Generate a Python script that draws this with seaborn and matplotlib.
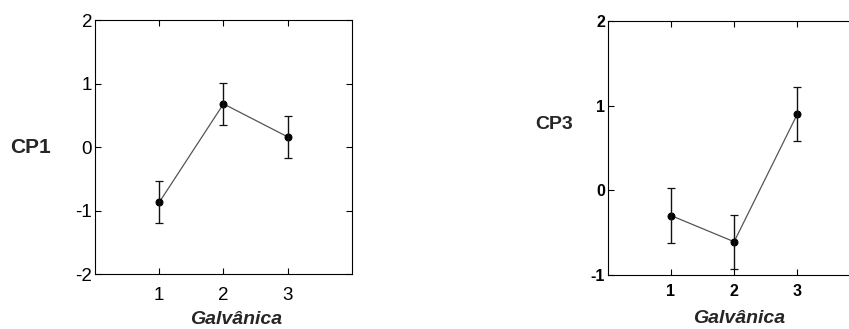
import matplotlib
matplotlib.use("Agg")
import matplotlib.pyplot as plt
import seaborn as sns
import pandas as pd
import numpy as np

groups = [1, 2, 3]
cp1_mean = [-0.87, 0.68, 0.16]
cp1_err = [0.33, 0.33, 0.33]
cp3_mean = [-0.30, -0.61, 0.90]
cp3_err = [0.32, 0.32, 0.32]

sns.set_theme(style="white")
plt.rcParams['font.family'] = ['Liberation Sans', 'DejaVu Sans']
plt.rcParams['axes.unicode_minus'] = False

fig = plt.figure(figsize=(8.49, 3.29), dpi=100)
ax1 = fig.add_axes([0.1119, 0.167, 0.3027, 0.772])
ax2 = fig.add_axes([0.7158, 0.165, 0.2978, 0.771])

def draw(ax, mean, err, ylim, yticks, label, tick_fs, lab_fs, ylab_fs, tick_bold, xpad):
    df = pd.DataFrame({"Galvânica": groups, "val": mean})
    sns.lineplot(data=df, x="Galvânica", y="val", ax=ax, color="#555555",
                 linewidth=0.9, marker="o", markersize=5,
                 markerfacecolor="black", markeredgecolor="black")
    ax.errorbar(groups, mean, yerr=err, fmt="none", ecolor="#111111",
                elinewidth=1.0, capsize=3, capthick=0.9)
    ax.set_xlim(0, 4)
    ax.set_ylim(*ylim)
    ax.set_xticks(groups)
    ax.set_yticks(yticks)
    ax.tick_params(direction="in", length=4, width=0.8, top=True, right=True,
                   bottom=True, left=True, labelsize=tick_fs, pad=2,
                   colors="black")
    ax.tick_params(axis="x", pad=xpad)
    for t in ax.get_xticklabels() + ax.get_yticklabels():
        t.set_fontweight("bold" if tick_bold else "normal")
    for s in ax.spines.values():
        s.set_color("black")
        s.set_linewidth(0.8)
        s.set_visible(True)
    ax.set_xlabel("Galvânica", fontsize=lab_fs, fontweight="bold",
                  fontstyle="italic")
    ax.set_ylabel(label, fontsize=ylab_fs, fontweight="bold", rotation=0,
                  labelpad=0)

draw(ax1, cp1_mean, cp1_err, (-2, 2), [-2, -1, 0, 1, 2], "CP1", 13.5, 14, 15, False, 9)
draw(ax2, cp3_mean, cp3_err, (-1, 2), [-1, 0, 1, 2], "CP3", 11.5, 14, 14, True, 7)

ax1.yaxis.set_label_coords(-0.25, 0.46)
ax2.yaxis.set_label_coords(-0.21, 0.56)
ax1.xaxis.set_label_coords(0.55, -0.145)
ax2.xaxis.set_label_coords(0.52, -0.14)

fig.savefig("out.png", dpi=100)
